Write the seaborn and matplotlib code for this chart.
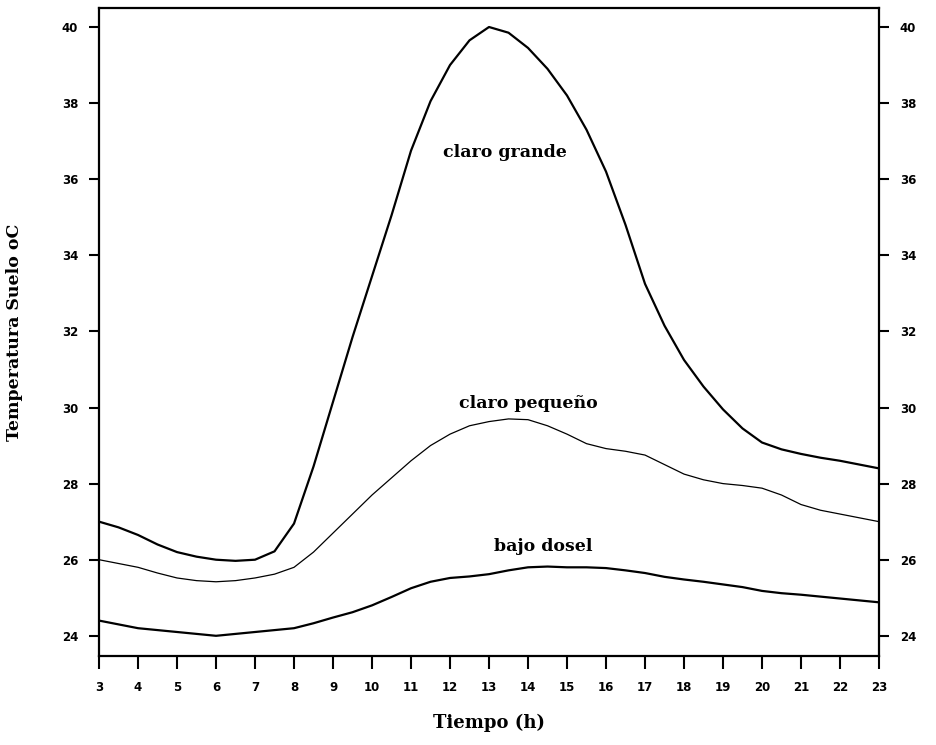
import numpy as np
import pandas as pd
import matplotlib
matplotlib.use("Agg")
import matplotlib.pyplot as plt
import seaborn as sns

horas = [3, 3.5, 4, 4.5, 5, 5.5, 6, 6.5, 7, 7.5, 8, 8.5, 9, 9.5, 10, 10.5,
         11, 11.5, 12, 12.5, 13, 13.5, 14, 14.5, 15, 15.5, 16, 16.5, 17, 17.5,
         18, 18.5, 19, 19.5, 20, 20.5, 21, 21.5, 22, 22.5, 23]

claro_grande = [27.0, 26.85, 26.65, 26.4, 26.2, 26.08, 26.0, 25.97, 26.0, 26.22,
                26.95, 28.45, 30.15, 31.85, 33.45, 35.05, 36.75, 38.05, 39.0, 39.65,
                40.0, 39.85, 39.45, 38.9, 38.2, 37.3, 36.2, 34.8, 33.25, 32.15,
                31.25, 30.55, 29.95, 29.45, 29.08, 28.9, 28.78, 28.68, 28.6, 28.5,
                28.4]

claro_pequeno = [26.0, 25.9, 25.8, 25.65, 25.52, 25.45, 25.42, 25.45, 25.52, 25.62,
                 25.8, 26.2, 26.7, 27.2, 27.7, 28.15, 28.6, 29.0, 29.3, 29.52,
                 29.63, 29.7, 29.68, 29.52, 29.3, 29.05, 28.92, 28.85, 28.75, 28.5,
                 28.25, 28.1, 28.0, 27.95, 27.88, 27.7, 27.45, 27.3, 27.2, 27.1,
                 27.0]

bajo_dosel = [24.4, 24.3, 24.2, 24.15, 24.1, 24.05, 24.0, 24.05, 24.1, 24.15,
              24.2, 24.33, 24.48, 24.62, 24.8, 25.02, 25.25, 25.42, 25.52, 25.56,
              25.62, 25.72, 25.8, 25.82, 25.8, 25.8, 25.78, 25.72, 25.65, 25.55,
              25.48, 25.42, 25.35, 25.28, 25.18, 25.12, 25.08, 25.03, 24.98, 24.93,
              24.88]

series = ["claro grande", "claro pequeño", "bajo dosel"]
etiqueta_x = [13.4, 14.0, 14.4]
etiqueta_y = [36.7, 30.1, 26.35]

x_ticks = list(range(3, 24))
y_ticks = list(range(24, 41, 2))

sns.set_theme(style="ticks")
plt.rcParams["font.family"] = ["DejaVu Sans"]
plt.rcParams["text.color"] = "black"
plt.rcParams["axes.labelcolor"] = "black"
plt.rcParams["xtick.color"] = "black"
plt.rcParams["ytick.color"] = "black"

df = pd.DataFrame({
    "Tiempo": horas * 3,
    "Temp": claro_grande + claro_pequeno + bajo_dosel,
    "serie": [s for s in series for _ in horas],
})

fig = plt.figure(figsize=(9.36, 7.45), dpi=100)
ax = fig.add_axes([0.1058, 0.1195, 0.8333, 0.8698])

sns.lineplot(data=df, x="Tiempo", y="Temp", hue="serie", size="serie",
             sizes={"claro grande": 1.6, "claro pequeño": 0.9, "bajo dosel": 1.6},
             palette={s: "black" for s in series}, legend=False, ax=ax,
             sort=False, estimator=None)
for ln in ax.get_lines():
    ln.set_solid_joinstyle("round")

# labels directly on the curves
for nombre, tx, ty in zip(series, etiqueta_x, etiqueta_y):
    ax.text(tx, ty, nombre, ha="center", va="center", fontsize=12.5,
            fontweight="bold", family="DejaVu Serif", color="black")

ax.set_xlim(3, 23)
ax.set_ylim(23.47, 40.5)
ax.set_xticks(x_ticks)
ax.set_yticks(y_ticks)
ax.set_xticklabels([str(t) for t in x_ticks], fontsize=8.5, fontweight="bold")
ax.set_yticklabels([str(t) for t in y_ticks], fontsize=8.5, fontweight="bold")

ax.tick_params(axis="x", direction="out", length=9, width=1.5, pad=9, colors="black")
ax.tick_params(axis="y", direction="out", length=7, width=1.5, pad=8,
               right=True, labelright=True, colors="black")

for sp in ax.spines.values():
    sp.set_visible(True)
    sp.set_linewidth(1.6)
    sp.set_color("black")

ax.set_xlabel("Tiempo (h)", fontsize=13, fontweight="bold", family="DejaVu Serif",
              labelpad=14, color="black")
ax.set_ylabel("Temperatura Suelo oC", fontsize=12.5, fontweight="bold",
              family="DejaVu Serif", labelpad=28, color="black")

fig.savefig("out.png", dpi=100, facecolor="white")
